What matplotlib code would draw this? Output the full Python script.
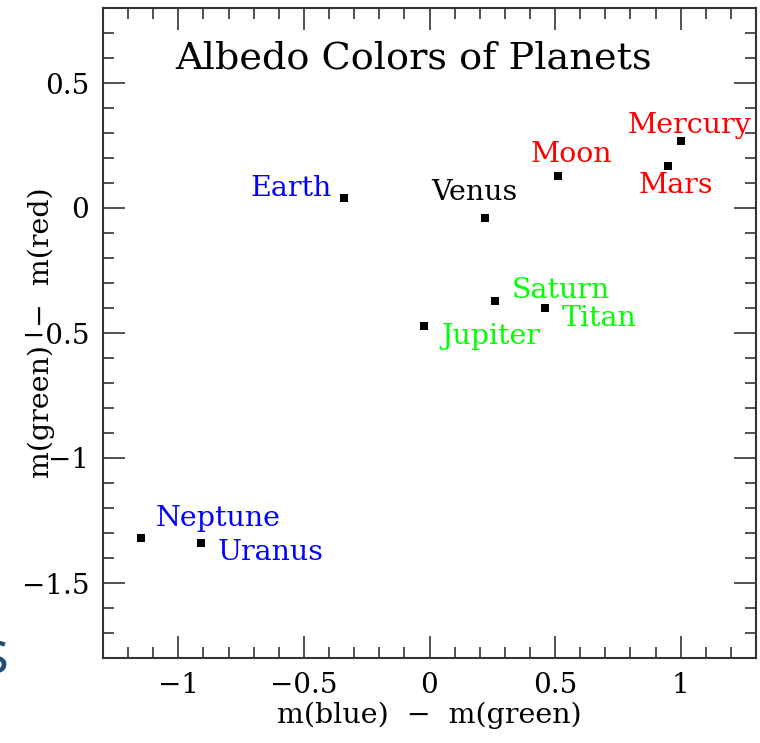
import matplotlib
matplotlib.use("Agg")
import matplotlib.pyplot as plt
from matplotlib.ticker import MultipleLocator

# colours: m(blue)-m(green) vs m(green)-m(red)
planets = ["Earth", "Venus", "Moon", "Mercury", "Mars",
           "Saturn", "Titan", "Jupiter", "Neptune", "Uranus"]
bg = [-0.34, 0.22, 0.51, 1.00, 0.95, 0.26, 0.46, -0.02, -1.15, -0.91]
gr = [0.04, -0.04, 0.13, 0.27, 0.17, -0.37, -0.40, -0.47, -1.32, -1.34]
label_colors = ["#0000ff", "black", "#ff0000", "#ff0000", "#ff0000",
                "#00ff00", "#00ff00", "#00ff00", "#0000ff", "#0000ff"]

# label placement (pixels from the point) and alignment
offsets = [(-12, 9), (-10, 25), (14, 21), (9, 15), (8, -20),
           (17, 10), (17, -10), (17, -11), (15, 20), (17, -10)]
haligns = ["right", "center", "center", "center", "center",
           "left", "left", "left", "left", "left"]

plt.rcParams["font.family"] = "DejaVu Serif"
plt.rcParams["axes.unicode_minus"] = True

fig = plt.figure(figsize=(7.6, 7.43), dpi=100)
ax = fig.add_axes([103 / 760, 85 / 743, 653 / 760, 650 / 743])

ax.plot(bg, gr, "s", color="black", markersize=6, markeredgewidth=0)

for name, x, y, c, off, ha in zip(planets, bg, gr, label_colors, offsets, haligns):
    ax.annotate(name, (x, y), xytext=off, textcoords="offset pixels",
                ha=ha, va="center", color=c, fontsize=20.5)

ax.text(0.475, 0.922, "Albedo Colors of Planets", transform=ax.transAxes,
        ha="center", va="center", fontsize=27.5)

ax.set_xlim(-1.3, 1.3)
ax.set_ylim(-1.8, 0.8)
ax.xaxis.set_major_locator(MultipleLocator(0.5))
ax.xaxis.set_minor_locator(MultipleLocator(0.1))
ax.yaxis.set_major_locator(MultipleLocator(0.5))
ax.yaxis.set_minor_locator(MultipleLocator(0.1))
fmt = plt.FuncFormatter(lambda v, p: f"{v:g}".replace("-", "\u2212"))
ax.xaxis.set_major_formatter(fmt)
ax.yaxis.set_major_formatter(fmt)

ax.tick_params(which="both", direction="in", top=True, right=True,
               color="#333333", labelsize=20)
ax.tick_params(which="major", length=16, width=1.2, pad=10)
ax.tick_params(which="minor", length=8, width=1.2)
for s in ax.spines.values():
    s.set_linewidth(1.5)
    s.set_color("#333333")

ax.set_xlabel("m(blue)  \u2212  m(green)", fontsize=20.5, labelpad=2)
ax.set_ylabel("m(green)  \u2212  m(red)", fontsize=20.5)
ax.yaxis.set_label_coords(-48 / 653, 0.5)

# stray letter from the slide the chart was cut out of
fig.text(-20 / 760, 70 / 743, "s", color="#1f4e79", fontsize=44,
         family="Open Sans", va="baseline", ha="left")

fig.savefig("out.png", dpi=100)
